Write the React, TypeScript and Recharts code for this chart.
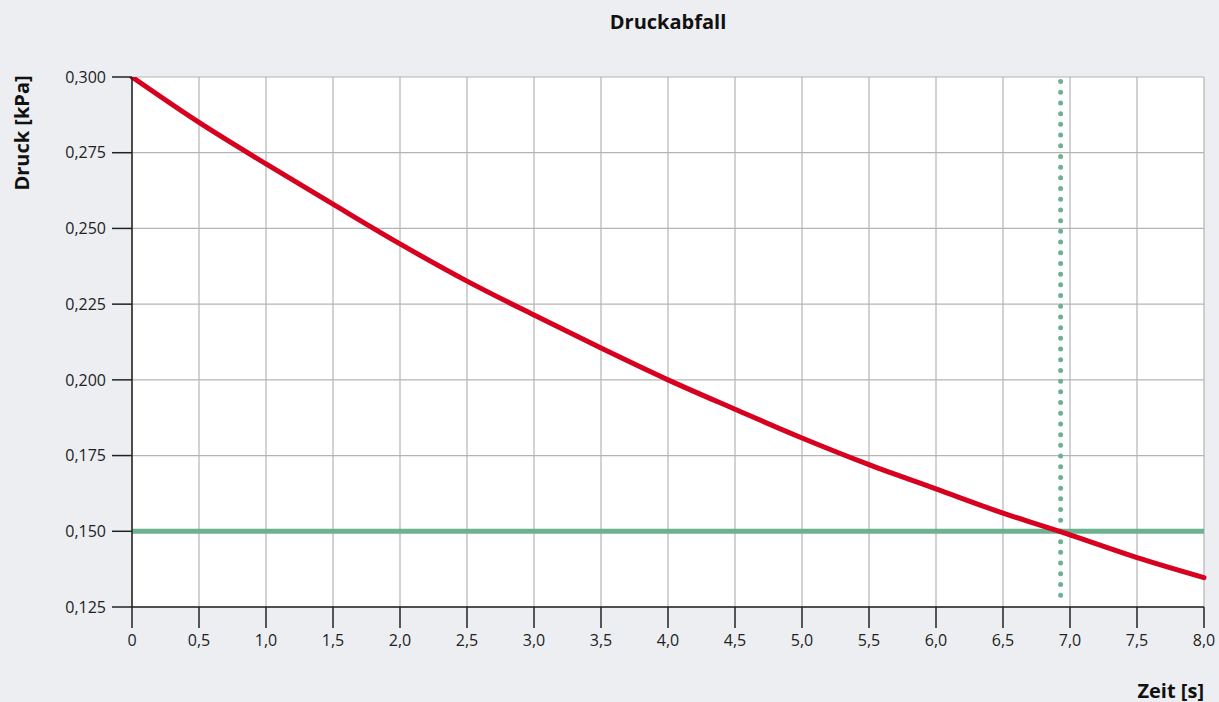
import React from "react";
import {
  LineChart,
  Line,
  XAxis,
  YAxis,
  CartesianGrid,
  ReferenceLine,
} from "recharts";

const times = [0, 0.5, 1, 1.5, 2, 2.5, 3, 3.5, 4, 4.5, 5, 5.5, 6, 6.5, 7, 7.5, 8];
const pressure = [
  0.3, 0.285, 0.2713, 0.258, 0.2449, 0.2326, 0.2214, 0.2105, 0.2, 0.1903,
  0.1808, 0.172, 0.164, 0.156, 0.1488, 0.1413, 0.1347,
];
const xTicks = [0, 0.5, 1, 1.5, 2, 2.5, 3, 3.5, 4, 4.5, 5, 5.5, 6, 6.5, 7, 7.5, 8];
const yTicks = [0.125, 0.15, 0.175, 0.2, 0.225, 0.25, 0.275, 0.3];
const thresholdPressure = 0.15;
const thresholdTime = 6.93;

const data = times.map((t, i) => ({ t, p: pressure[i] }));

const FONT = "'Open Sans', 'Noto Sans', sans-serif";
const BG = "#eceef2";
const RED = "#d7001f";
const GREEN = "#6cb190";

const fmtX = (v: number) => (v === 0 ? "0" : v.toFixed(1).replace(".", ","));
const fmtY = (v: number) => v.toFixed(3).replace(".", ",");

export default function App() {
  return (
    <div
      style={{
        position: "relative",
        width: 1219,
        height: 702,
        background: BG,
        fontFamily: FONT,
      }}
    >
      <style>{`body{margin:0;} .recharts-cartesian-axis-tick-value{font-size:16px;font-family:${FONT};}`}</style>
      <div
        style={{
          position: "absolute",
          left: 132,
          width: 1072,
          top: 8,
          textAlign: "center",
          fontWeight: 700,
          fontSize: 20,
          lineHeight: "28px",
          color: "#111",
        }}
      >
        Druckabfall
      </div>
      <div
        style={{
          position: "absolute",
          left: 22,
          top: 133,
          transform: "translate(-50%, -50%) rotate(-90deg)",
          fontWeight: 700,
          fontSize: 20,
          lineHeight: "28px",
          color: "#111",
          whiteSpace: "nowrap",
        }}
      >
        Druck [kPa]
      </div>
      <div
        style={{
          position: "absolute",
          right: 15,
          top: 677,
          fontWeight: 700,
          fontSize: 20,
          lineHeight: "28px",
          color: "#111",
          whiteSpace: "nowrap",
        }}
      >
        Zeit [s]
      </div>
      <LineChart
        width={1219}
        height={702}
        data={data}
        margin={{ top: 77, right: 15, bottom: 0, left: 0 }}
        style={{ position: "absolute", left: 0, top: 0 }}
      >
        <CartesianGrid
          stroke="#b4b4b4"
          strokeWidth={1.2}
          fill="#ffffff"
          fillOpacity={1}
          horizontalValues={yTicks}
          verticalValues={xTicks}
        />
        <XAxis
          dataKey="t"
          type="number"
          domain={[0, 8]}
          ticks={xTicks}
          tickFormatter={fmtX}
          height={95}
          tickSize={21}
          tickMargin={7}
          fontSize={16}
          axisLine={{ stroke: "#222", strokeWidth: 1.5 }}
          tickLine={{ stroke: "#222", strokeWidth: 1.5 }}
          tick={{ fill: "#222", fontSize: 16, fontFamily: FONT }}
          interval={0}
        />
        <YAxis
          type="number"
          domain={[0.125, 0.3]}
          ticks={yTicks}
          tickFormatter={fmtY}
          width={132}
          tickSize={20}
          tickMargin={6}
          fontSize={16}
          axisLine={{ stroke: "#222", strokeWidth: 1.5 }}
          tickLine={{ stroke: "#222", strokeWidth: 1.5 }}
          tick={{ fill: "#222", fontSize: 16, fontFamily: FONT }}
          interval={0}
          allowDataOverflow
        />
        <ReferenceLine
          y={thresholdPressure}
          stroke={GREEN}
          strokeWidth={5}
        />
        <ReferenceLine
          segment={[
            { x: thresholdTime, y: 0.2985 },
            { x: thresholdTime, y: 0.1265 },
          ]}
          stroke={GREEN}
          strokeWidth={5}
          strokeDasharray="0 10.7"
          strokeLinecap="round"
        />
        <Line
          type="monotone"
          dataKey="p"
          stroke={RED}
          strokeWidth={5}
          dot={false}
          isAnimationActive={false}
          strokeLinecap="round"
        />
      </LineChart>
    </div>
  );
}
